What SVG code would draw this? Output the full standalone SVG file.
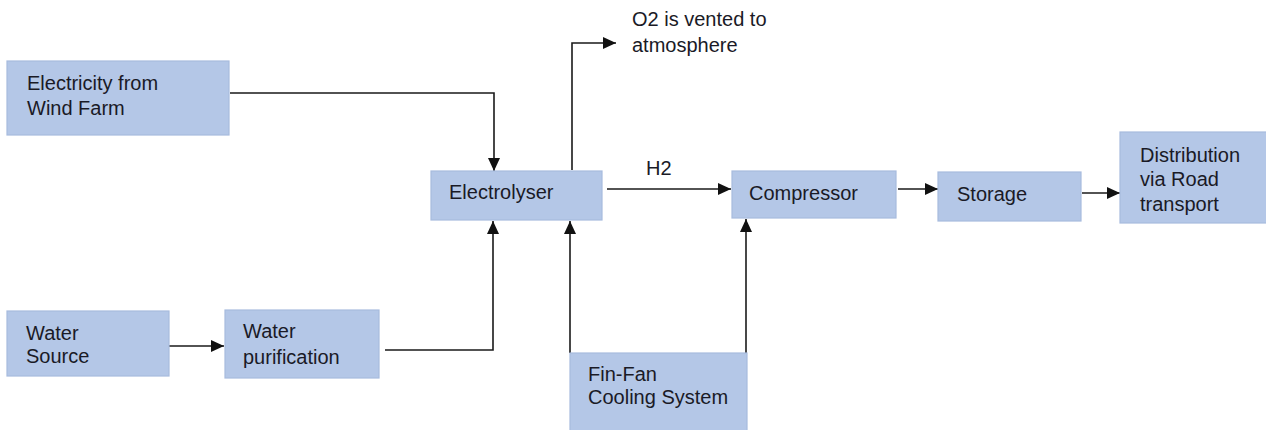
<svg xmlns="http://www.w3.org/2000/svg" width="1266" height="430" viewBox="0 0 1266 430">
<style>
.box{fill:#b4c7e7;stroke:#a7bbde;stroke-width:1.2}
.t{font-family:"Liberation Sans",Arial,sans-serif;font-size:20px;fill:#1a1a26}
.c{fill:none;stroke:#1a1a1a;stroke-width:1.6}
</style>
<defs>
<marker id="ah" markerUnits="userSpaceOnUse" markerWidth="13" markerHeight="12" viewBox="0 0 13 12" refX="13" refY="6" orient="auto">
<path d="M0,0 L13,6 L0,12 z" fill="#111"/>
</marker>
</defs>
<rect width="1266" height="430" fill="#ffffff"/>
<g id="connectors">
<path class="c" d="M230,93 H494 V171" marker-end="url(#ah)"/>
<path class="c" d="M572,170 V43 H616" marker-end="url(#ah)"/>
<path class="c" d="M607,189 H731" marker-end="url(#ah)"/>
<path class="c" d="M169,346 H224" marker-end="url(#ah)"/>
<path class="c" d="M385,350 H493 V221" marker-end="url(#ah)"/>
<path class="c" d="M570,353 V221" marker-end="url(#ah)"/>
<path class="c" d="M746,353 V219" marker-end="url(#ah)"/>
<path class="c" d="M898,189 H938" marker-end="url(#ah)"/>
<path class="c" d="M1082,193 H1120" marker-end="url(#ah)"/>
</g>
<g id="label-o2">
<text class="t" x="632" y="26">O2 is vented to</text>
<text class="t" x="632" y="52">atmosphere</text>
</g>
<g id="label-h2">
<text class="t" x="646" y="175">H2</text>
</g>
<g id="electricity">
<rect class="box" x="7" y="61" width="222" height="74"/>
<text class="t" x="27" y="90">Electricity from</text>
<text class="t" x="27" y="115">Wind Farm</text>
</g>
<g id="electrolyser">
<rect class="box" x="431" y="171" width="171" height="49"/>
<text class="t" x="449" y="199">Electrolyser</text>
</g>
<g id="compressor">
<rect class="box" x="732" y="171" width="164" height="47"/>
<text class="t" x="749" y="200">Compressor</text>
</g>
<g id="storage">
<rect class="box" x="938" y="172" width="143" height="49"/>
<text class="t" x="957" y="201">Storage</text>
</g>
<g id="distribution">
<rect class="box" x="1120" y="132" width="150" height="91"/>
<text class="t" x="1140" y="162">Distribution</text>
<text class="t" x="1140" y="186">via Road</text>
<text class="t" x="1140" y="211">transport</text>
</g>
<g id="water-source">
<rect class="box" x="7" y="311" width="162" height="65"/>
<text class="t" x="26" y="340">Water</text>
<text class="t" x="26" y="363">Source</text>
</g>
<g id="water-purification">
<rect class="box" x="225" y="310" width="154" height="68"/>
<text class="t" x="243" y="338">Water</text>
<text class="t" x="243" y="364">purification</text>
</g>
<g id="fin-fan">
<rect class="box" x="570" y="353" width="177" height="80"/>
<text class="t" x="588" y="381">Fin-Fan</text>
<text class="t" x="588" y="404">Cooling System</text>
</g>
</svg>
